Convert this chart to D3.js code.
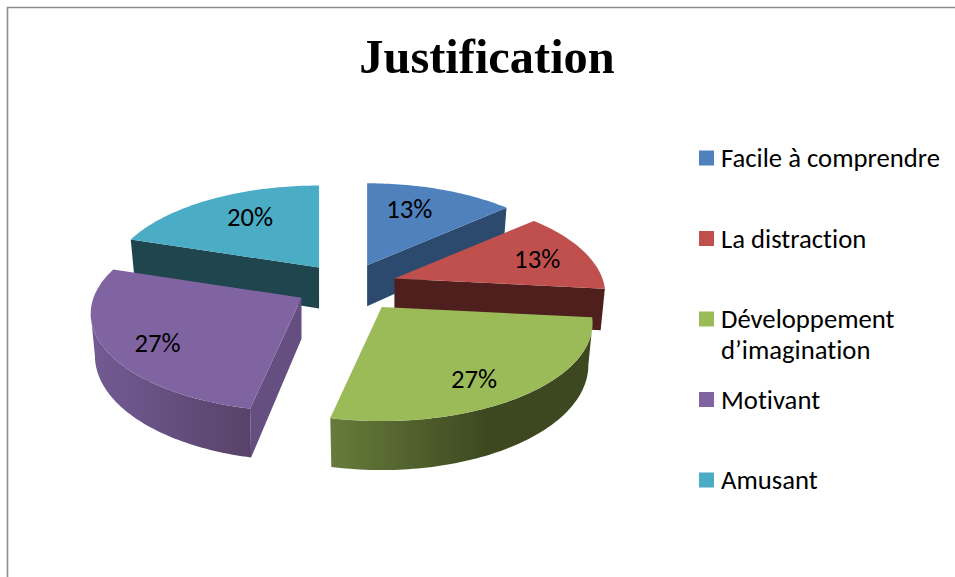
<!DOCTYPE html>
<html>
<head>
<meta charset="utf-8">
<script src="https://cdn.jsdelivr.net/npm/d3@7"></script>
<style>
	html, body { margin: 0; padding: 0; background: #fff; overflow: hidden; }
	svg { display: block; }
	text { font-variant-ligatures: none; }
</style>
</head>
<body>
<script>
const categories = ["Facile à comprendre", "La distraction", "Développement d’imagination", "Motivant", "Amusant"];
// answers out of 15, the labels are these rounded to whole percents
const values = [2, 2, 4, 4, 3];

const topColors = ["#4f81bd", "#c0504d", "#9bbb59", "#8064a2", "#4bacc6"];
const faceColors = ["#2c4a6e", "#4f1f1d", "#5b6e34", "#644f80", "#1f454f"];
const wallLight = ["#2c4a6e", "#4f1f1d", "#677c3b", "#735b94", "#1f454f"];
const wallDark = ["#2c4a6e", "#4f1f1d", "#3d4820", "#574369", "#1f454f"];
const drawOrder = [4, 0, 1, 3, 2];
const legendLines = [["Facile à comprendre"], ["La distraction"], ["Développement", "d’imagination"], ["Motivant"], ["Amusant"]];

// how far each slice is pulled out, as a share of the radius
const explode = [0.24, 0.24, 0.27, 0.25, 0.24];
// label placement along the slice radius, then a small nudge in pixels
const labelRadius = [0.58, 0.7, 0.74, 0.78, 0.6];
const labelNudge = [[-3, -10], [9, 0], [-8, 8], [6, 5], [-1, -8]];

const width = 955, height = 577;
const cx = 347.5, cy = 285.5;
const radius = 208, squash = 95.4, persp = 0.163, depth = 41;
const silhouette = Math.acos(-persp);
const uiFont = "Carlito, Calibri, Lato, sans-serif";
const uiSize = 26.7;

const svg = d3.select("body").append("svg")
	.attr("width", width)
	.attr("height", height);

// frame of the original chart object, only top and left survive in the crop
svg.append("path")
	.attr("d", "M7.5,577V7.5H955")
	.attr("fill", "none")
	.attr("stroke", "#8c8c8c")
	.attr("stroke-width", 1.6);

svg.append("text")
	.attr("x", 487)
	.attr("y", 73)
	.attr("text-anchor", "middle")
	.attr("font-family", "'Liberation Serif', serif")
	.attr("font-weight", "bold")
	.attr("font-size", 48.4)
	.attr("fill", "#000")
	.text("Justification");

// disc coordinates -> screen offset, with a little perspective
function project (x, z) {
	const s = 1 / (1 - persp * z);
	return [x * radius * s, z * squash * s, s];
}
function rimPoint (apex, a, bottom) {
	const [px, py, s] = project(Math.sin(a), -Math.cos(a));
	if (!bottom) return [apex[0] + px, apex[1] + py];
	return [apex[0] + px * 0.98, apex[1] + py + depth * s];
}
function arcAngles (a0, a1) {
	const n = Math.max(2, Math.ceil((a1 - a0) / 0.02));
	return d3.range(n + 1).map(i => a0 + (a1 - a0) * i / n);
}

const line = d3.line();
const pie = d3.pie().sort(null).value(d => d);
const arcs = pie(values);
const total = d3.sum(values);
const percent = d3.format(".0%");

const defs = svg.append("defs");
const pieG = svg.append("g");

function drawSlice (i) {
	const d = arcs[i];
	const mid = (d.startAngle + d.endAngle) / 2;
	const off = project(explode[i] * Math.sin(mid), -explode[i] * Math.cos(mid));
	const apex = [cx + off[0], cy + off[1]];
	const apexLow = [apex[0], apex[1] + depth];
	const g = pieG.append("g");

	// radial faces, only the ones turned to the viewer
	const midRim = rimPoint(apex, mid, false);
	[d.startAngle, d.endAngle].forEach(a => {
		const rim = rimPoint(apex, a, false);
		const ex = rim[0] - apex[0], ey = rim[1] - apex[1];
		const cross = ex * (midRim[1] - apex[1]) - ey * (midRim[0] - apex[0]);
		if (cross * ex >= 0) return;
		g.append("path")
			.attr("d", line([apex, rim, rimPoint(apex, a, true), apexLow]) + "Z")
			.attr("fill", faceColors[i]);
	});

	// outer curved wall
	const from = Math.max(d.startAngle, silhouette);
	const to = Math.min(d.endAngle, 2 * Math.PI - silhouette);
	if (to > from) {
		const angles = arcAngles(from, to);
		const upper = angles.map(a => rimPoint(apex, a, false));
		const lower = angles.map(a => rimPoint(apex, a, true)).reverse();
		const xs = d3.extent(upper, p => p[0]);
		// the lit side is to the left on both slices
		const grad = defs.append("linearGradient")
			.attr("id", "wall" + i)
			.attr("gradientUnits", "userSpaceOnUse")
			.attr("x1", xs[0]).attr("x2", xs[1])
			.attr("y1", 0).attr("y2", 0);
		grad.append("stop").attr("offset", 0).attr("stop-color", wallLight[i]);
		grad.append("stop").attr("offset", i === 2 ? 0.6 : 1).attr("stop-color", wallDark[i]);
		g.append("path")
			.attr("d", line(upper.concat(lower)) + "Z")
			.attr("fill", `url(#wall${i})`);
	}

	// top surface
	const top = arcAngles(d.startAngle, d.endAngle).map(a => rimPoint(apex, a, false));
	g.append("path")
		.attr("d", line([apex].concat(top)) + "Z")
		.attr("fill", topColors[i]);

	return apex;
}

const apexes = [];
drawOrder.forEach(i => { apexes[i] = drawSlice(i); });

svg.append("g")
		.attr("font-family", uiFont)
		.attr("font-size", uiSize)
		.attr("text-anchor", "middle")
		.attr("fill", "#000")
	.selectAll("text")
	.data(arcs)
	.join("text")
		.attr("transform", (d, i) => {
			const mid = (d.startAngle + d.endAngle) / 2;
			const p = project(labelRadius[i] * Math.sin(mid), -labelRadius[i] * Math.cos(mid));
			return `translate(${apexes[i][0] + p[0] + labelNudge[i][0]},${apexes[i][1] + p[1] + labelNudge[i][1]})`;
		})
		.attr("dy", "0.35em")
		.text(d => percent(d.data / total));

const legendY = d3.scalePoint()
	.domain(categories)
	.range([158, 480]);

const legend = svg.append("g")
		.attr("font-family", uiFont)
		.attr("font-size", uiSize)
		.attr("fill", "#000")
	.selectAll("g")
	.data(categories)
	.join("g")
		.attr("transform", d => `translate(699,${legendY(d)})`);

legend.append("rect")
	.attr("y", -7.5)
	.attr("width", 15)
	.attr("height", 15)
	.attr("fill", (d, i) => topColors[i]);

legend.append("text")
	.attr("x", 22)
	.attr("y", 9)
	.selectAll("tspan")
	.data((d, i) => legendLines[i])
	.join("tspan")
		.attr("x", 22)
		.attr("dy", (d, i) => i ? 31 : 0)
		.text(d => d);
</script>
</body>
</html>
